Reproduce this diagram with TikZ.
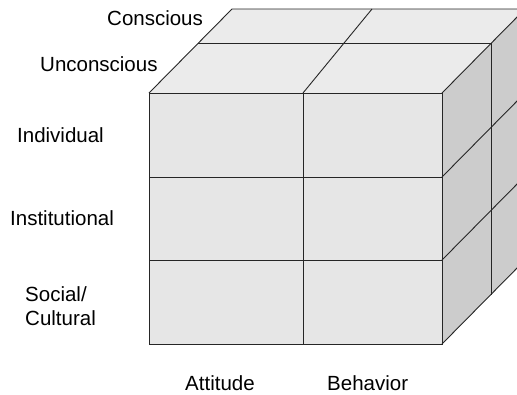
\documentclass[tikz,border=0pt]{standalone}
\usepackage{fontspec}
\setmainfont{Liberation Sans}
\usepackage{tikz}
\usetikzlibrary{positioning, calc}

\definecolor{frontgray}{HTML}{E6E6E6}
\definecolor{topgray}{HTML}{EBEBEB}
\definecolor{sidegray}{HTML}{CCCCCC}
\tikzset{
  lbl/.style={anchor=base west, inner sep=0pt, font=\fontsize{20.5}{24}\selectfont},
  edge/.style={draw=black!85, line width=0.9pt},
}

\begin{document}
\begin{tikzpicture}[x=1pt, y=-1pt]
  \useasboundingbox (0,0) rectangle (517,394);
  \clip (0,0) rectangle (517,394);
  % corners of the cube
  \coordinate (fa) at (149,93);
  \coordinate (fb) at (442,93);
  \coordinate (fc) at (442,344);
  \coordinate (fd) at (149,344);
  \coordinate (ba) at ($(fa)+(83,-84)$);
  \coordinate (bb) at ($(fb)+(83,-84)$);
  \coordinate (bc) at ($(fc)+(83,-84)$);
  % faces
  \fill[topgray] (fa) -- (ba) -- (bb) -- (fb) -- cycle;
  \fill[sidegray] (fb) -- (bb) -- (bc) -- (fc) -- cycle;
  \fill[frontgray] (fa) rectangle (fc);
  % front grid
  \draw[edge] (fa) rectangle (fc);
  \draw[edge] (303,93) -- (303,344);
  \draw[edge] (149,177) -- (442,177);
  \draw[edge] (149,260) -- (442,260);
  % top grid
  \draw[edge] (fa) -- (ba) -- (bb);
  \draw[edge] (fb) -- (bb);
  \draw[edge] (198,43) -- (491,43);
  \draw[edge] (303,93) -- (372,9);
  % side grid
  \draw[edge] (491,43) -- (491,295);
  \draw[edge] (442,177) -- ($(442,177)+(83,-84)$);
  \draw[edge] (442,260) -- ($(442,260)+(83,-84)$);
  \draw[edge] (fc) -- (bc);
  % labels
  \node[lbl] (conscious) at (107,25) {Conscious};
  \node[lbl] (unconscious) at (40,71) {Unconscious};
  \node[lbl] (individual) at (17,142) {Individual};
  \node[lbl] (institutional) at (10,225) {Institutional};
  \node[lbl] (social) at (25,301) {Social/};
  \node[lbl] (cultural) at (25,325) {Cultural};
  \node[lbl] (attitude) at (185,390) {Attitude};
  \node[lbl] (behavior) at (327,390) {Behavior};
\end{tikzpicture}
\end{document}
